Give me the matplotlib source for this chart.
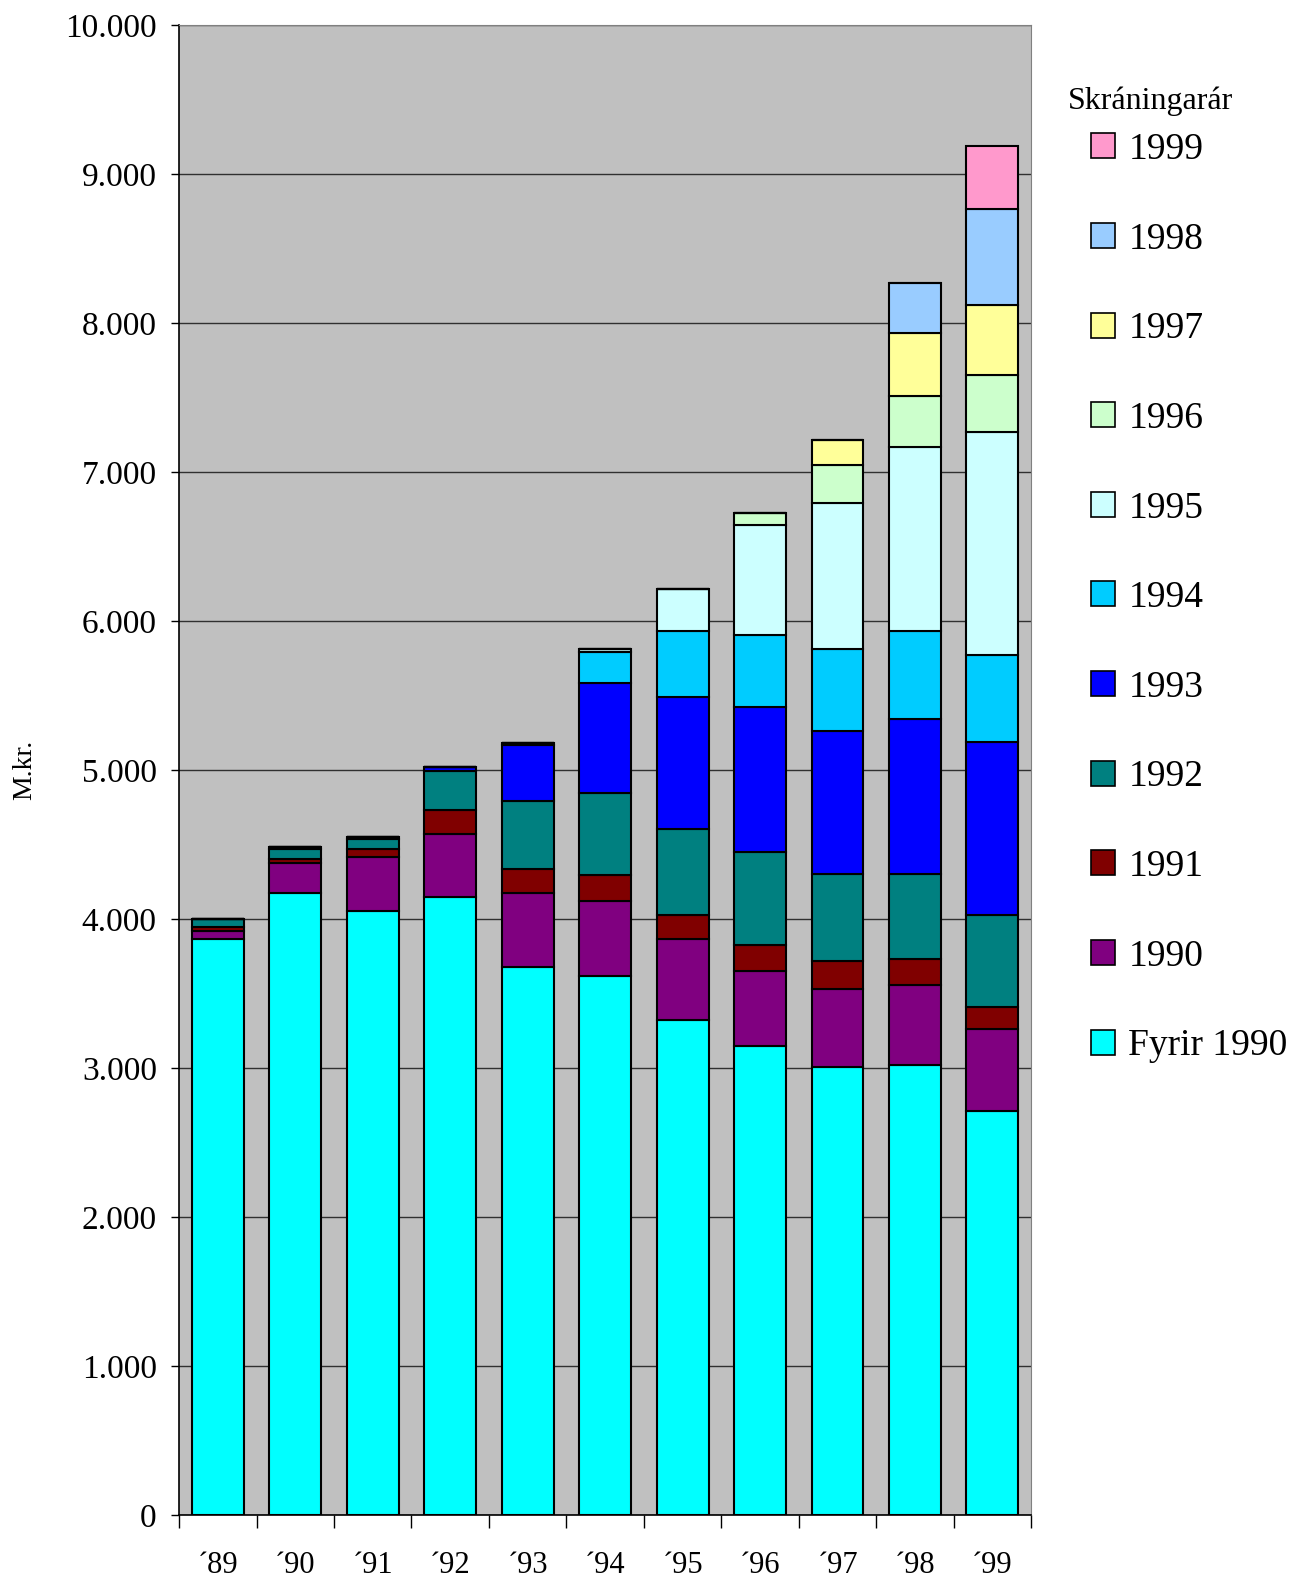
import numpy as np
import matplotlib
matplotlib.use("Agg")
from matplotlib import pyplot as plt
from matplotlib.ticker import FuncFormatter

plt.rcParams['font.family'] = ['Liberation Serif', 'DejaVu Serif']

years = ['´89', '´90', '´91', '´92', '´93', '´94', '´95', '´96', '´97', '´98', '´99']

# one series per registration year (Skráningarár), values in M.kr.
fyrir_1990 = [3865, 4176, 4054, 4145, 3676, 3615, 3324, 3149, 3007, 3020, 2709]
s1990 = [55, 200, 362, 429, 500, 507, 541, 500, 520, 534, 555]
s1991 = [25, 25, 53, 161, 160, 175, 162, 175, 189, 176, 148]
s1992 = [55, 68, 67, 260, 455, 546, 576, 629, 588, 574, 615]
s1993 = [0, 15, 15, 27, 374, 743, 889, 971, 960, 1041, 1162]
s1994 = [0, 0, 0, 0, 17, 208, 442, 484, 547, 587, 581]
s1995 = [0, 0, 0, 0, 0, 17, 282, 734, 980, 1237, 1500]
s1996 = [0, 0, 0, 0, 0, 0, 0, 85, 256, 345, 379]
s1997 = [0, 0, 0, 0, 0, 0, 0, 0, 169, 418, 473]
s1998 = [0, 0, 0, 0, 0, 0, 0, 0, 0, 338, 642]
s1999 = [0, 0, 0, 0, 0, 0, 0, 0, 0, 0, 425]

series = [fyrir_1990, s1990, s1991, s1992, s1993, s1994, s1995, s1996, s1997, s1998, s1999]
labels = ['Fyrir 1990', '1990', '1991', '1992', '1993', '1994', '1995', '1996', '1997', '1998', '1999']
colors = ['#00FFFF', '#800080', '#800000', '#008080', '#0000FF', '#00CCFF',
          '#CCFFFF', '#CCFFCC', '#FFFF99', '#99CCFF', '#FF99CC']

fig = plt.figure(figsize=(12.91, 15.78), dpi=100)
ax = fig.add_axes([0.1387, 0.040, 0.660, 0.944])
ax.set_facecolor('#C0C0C0')

x = np.arange(len(years))
bottom = np.zeros(len(years))
handles = []
for vals, lab, col in zip(series, labels, colors):
    vals = np.array(vals, dtype=float)
    b = ax.bar(x, vals, 0.67, bottom=bottom, color=col, edgecolor='black',
               linewidth=1.5, label=lab, zorder=3)
    handles.append(b)
    bottom += vals

ax.set_xlim(-0.5, len(years) - 0.5)
ax.set_ylim(0, 10000)
ax.set_yticks(np.arange(0, 10001, 1000))
ax.yaxis.set_major_formatter(FuncFormatter(lambda v, p: f'{int(v):,}'.replace(',', '.')))
ax.yaxis.grid(True, color='#303030', linewidth=1.0, zorder=1)
ax.set_axisbelow(True)

ax.set_xticks(x)
ax.set_xticklabels(years)
ax.set_xticks(np.arange(-0.5, len(years)), minor=True)
ax.tick_params(axis='x', which='major', length=0, pad=26, labelsize=22)
ax.tick_params(axis='x', which='minor', length=9, width=1, color='black')
ax.tick_params(axis='y', length=6, width=1, pad=10, labelsize=24)

for side in ['top', 'right']:
    ax.spines[side].set_color('#808080')
for side in ['left', 'bottom']:
    ax.spines[side].set_color('black')
    ax.spines[side].set_linewidth(1.2)

ax.set_ylabel('M.kr.', fontsize=20)
ax.yaxis.set_label_coords(-0.166, 0.5)

fig.text(0.827, 0.936, 'Skráningarár', fontsize=23, ha='left', va='center')
leg = ax.legend(handles[::-1], labels[::-1],
                loc='upper left', bbox_to_anchor=(1.070, 0.928),
                frameon=False, fontsize=27,
                labelspacing=1.47, handlelength=0.65, handleheight=0.65,
                handletextpad=0.35, borderaxespad=0, borderpad=0)
for p in leg.get_patches():
    p.set_linewidth(1.2)

fig.savefig('out.png', dpi=100, facecolor='white')
